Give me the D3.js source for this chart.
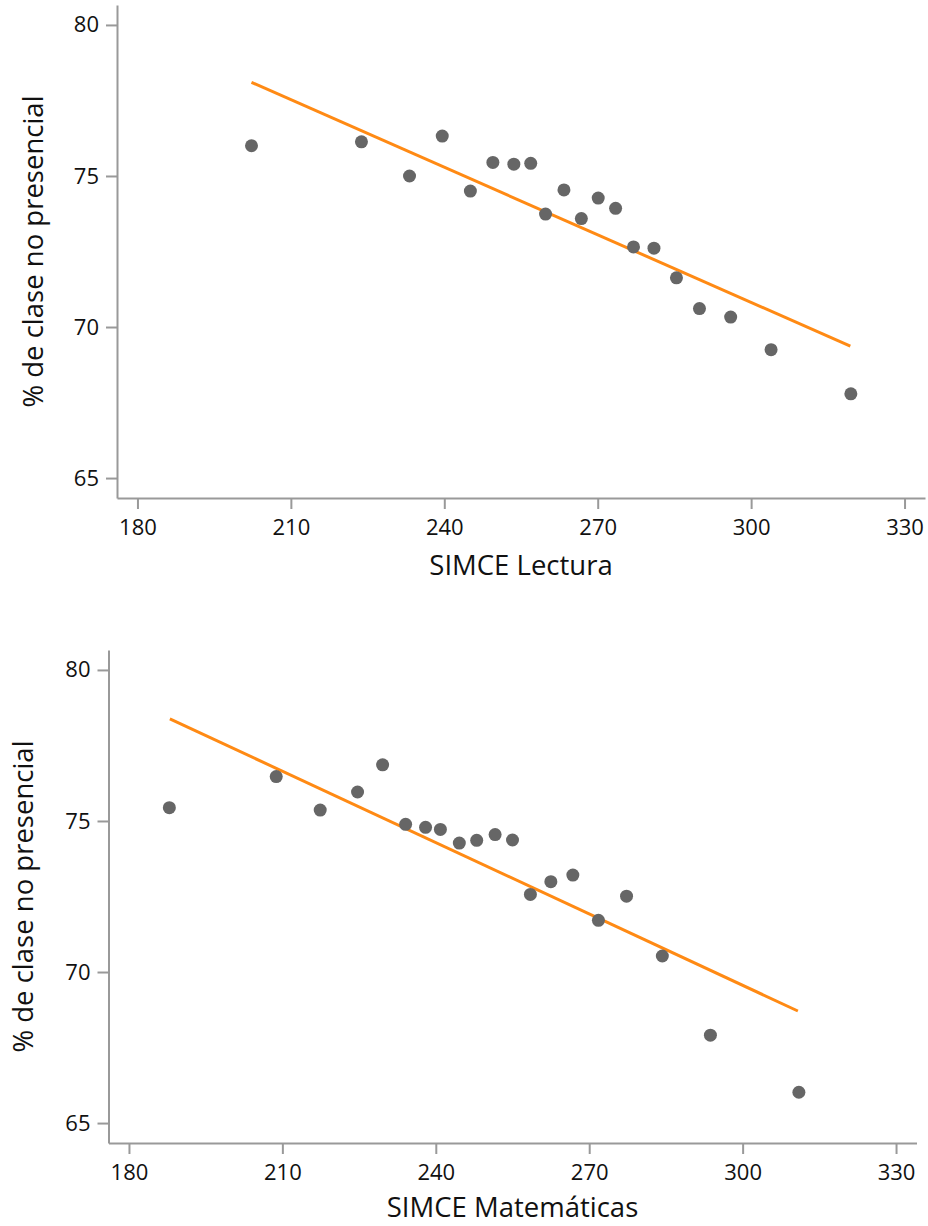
<!DOCTYPE html>
<meta charset="utf-8">
<style>
body {
  margin: 0;
  background: #fff;
}
.axis path,
.axis line {
  stroke: #999;
  stroke-width: 2px;
}
.axis text {
  font-family: "Open Sans", sans-serif;
  font-size: 22px;
  fill: #111;
}
.title {
  font-family: "Open Sans", sans-serif;
  font-size: 27.5px;
  fill: #111;
}
.dot {
  fill: #666;
}
.fit {
  fill: none;
  stroke: #ff8a14;
  stroke-width: 3px;
}
</style>
<body>
<script src="https://d3js.org/d3.v7.min.js"></script>
<script>

var width = 928,
    height = 1226;

// SIMCE Lectura vs % de clase no presencial
var lecturaX = [202.3, 223.8, 233.2, 239.6, 245.1, 249.5, 253.6, 256.9, 259.8, 263.4,
                266.8, 270.1, 273.5, 277.0, 281.0, 285.4, 289.9, 296.0, 303.9, 319.5];
var lecturaY = [76.0, 76.13, 75.0, 76.32, 74.5, 75.45, 75.39, 75.42, 73.74, 74.54,
                73.59, 74.27, 73.93, 72.65, 72.61, 71.63, 70.61, 70.33, 69.25, 67.79];
var lecturaFitX = [202.3, 319.4];
var lecturaFitY = [78.10, 69.37];

// SIMCE Matemáticas vs % de clase no presencial
var mateX = [187.9, 208.8, 217.4, 224.7, 229.6, 234.1, 238.0, 240.9, 244.6, 248.0,
             251.6, 255.0, 258.5, 262.5, 266.8, 271.8, 277.3, 284.3, 293.7, 311.0];
var mateY = [75.44, 76.47, 75.36, 75.96, 76.86, 74.89, 74.79, 74.72, 74.27, 74.36,
             74.55, 74.37, 72.57, 72.99, 73.21, 71.71, 72.51, 70.53, 67.91, 66.02];
var mateFitX = [188.0, 310.8];
var mateFitY = [78.38, 68.71];

var xTicks = [180, 210, 240, 270, 300, 330];
var yTicks = [65, 70, 75, 80];
var yLabel = "% de clase no presencial";

var panels = [
  {left: 117, top: 5, ylx: 33, xly: 67, xs: lecturaX, ys: lecturaY, fx: lecturaFitX, fy: lecturaFitY, label: "SIMCE Lectura"},
  {left: 108.5, top: 650, ylx: 23, xly: 64, xs: mateX, ys: mateY, fx: mateFitX, fy: mateFitY, label: "SIMCE Matemáticas"}
];

var w = 808,
    h = 493;

var svg = d3.select("body").append("svg")
    .attr("width", width)
    .attr("height", height);

panels.forEach(function(p) {
  var x = d3.scaleLinear().domain([176, 334]).range([0, w]);
  var y = d3.scaleLinear().domain([64.34, 80.66]).range([h, 0]);

  var g = svg.append("g")
      .attr("transform", "translate(" + p.left + "," + p.top + ")");

  g.append("g")
      .attr("class", "axis")
      .attr("transform", "translate(0," + h + ")")
      .call(d3.axisBottom(x).tickValues(xTicks).tickSize(11).tickSizeOuter(0).tickPadding(10));

  g.append("g")
      .attr("class", "axis")
      .call(d3.axisLeft(y).tickValues(yTicks).tickSize(11).tickSizeOuter(0).tickPadding(7));

  var fit = d3.zip(p.fx, p.fy);
  g.append("path")
      .datum(fit)
      .attr("class", "fit")
      .attr("d", d3.line().x(function(d) { return x(d[0]); }).y(function(d) { return y(d[1]); }));

  g.selectAll(".dot")
      .data(d3.zip(p.xs, p.ys))
    .enter().append("circle")
      .attr("class", "dot")
      .attr("r", 6.5)
      .attr("cx", function(d) { return x(d[0]); })
      .attr("cy", function(d) { return y(d[1]); });

  g.append("text")
      .attr("class", "title")
      .attr("text-anchor", "middle")
      .attr("x", w / 2)
      .attr("y", h + p.xly)
      .attr("dy", "0.35em")
      .text(p.label);

  g.append("text")
      .attr("class", "title")
      .attr("text-anchor", "middle")
      .attr("transform", "translate(" + (p.ylx - p.left) + "," + y(72.5) + ") rotate(-90)")
      .attr("dy", "0.35em")
      .text(yLabel);
});

</script>
